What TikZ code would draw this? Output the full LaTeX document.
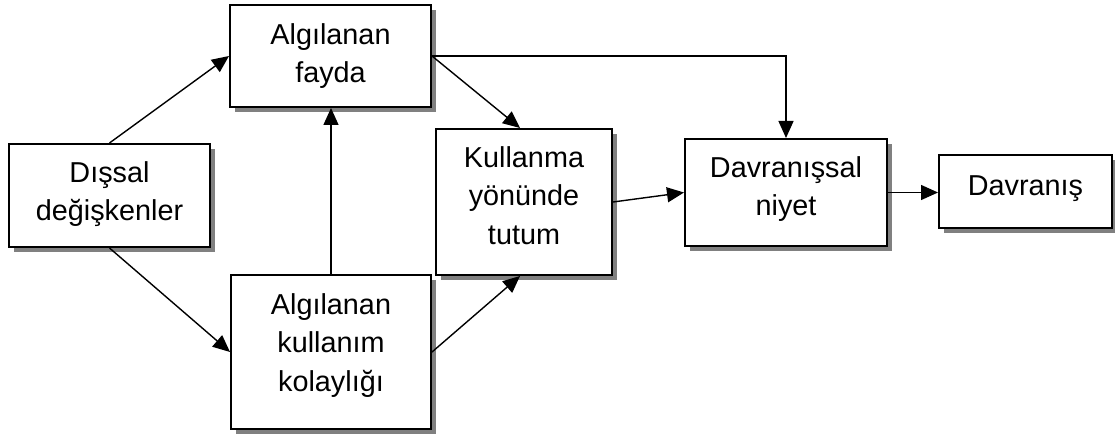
\documentclass[tikz,border=0pt]{standalone}
\usepackage{fontspec}
\setmainfont{Liberation Sans}
\usetikzlibrary{shadows,arrows.meta}

\begin{document}
\begin{tikzpicture}[x=1pt,y=-1pt,
  box/.style={draw, line width=2pt, fill=white, inner sep=0pt,
    drop shadow={shadow xshift=5pt, shadow yshift=-5pt, fill=black!50, opacity=1}},
  lbl/.style={anchor=north, align=center, inner sep=0pt,
    font=\fontsize{28.8}{38.5}\selectfont},
  link/.style={line width=1.4pt, -{Triangle[length=17pt,width=15pt]}}]
\useasboundingbox (0,0) rectangle (1115,435);

% boxes
\node[box, minimum width=201pt, minimum height=102pt] (fayda) at (330.5,56) {};
\node[lbl] (faydaT) at ([yshift=-19pt]fayda.north) {Algılanan\\fayda};

\node[box, minimum width=201pt, minimum height=103pt] (dis) at (109.5,195.5) {};
\node[lbl] (disT) at ([yshift=-18pt]dis.north) {Dışsal\\değişkenler};

\node[box, minimum width=200pt, minimum height=154pt] (kol) at (331,352) {};
\node[lbl] (kolT) at ([yshift=-19pt]kol.north) {Algılanan\\kullanım\\kolaylığı};

\node[box, minimum width=176pt, minimum height=146pt] (kul) at (524,202) {};
\node[lbl] (kulT) at ([yshift=-18pt]kul.north) {Kullanma\\yönünde\\tutum};

\node[box, minimum width=202pt, minimum height=107pt] (niy) at (786,192.5) {};
\node[lbl] (niyT) at ([yshift=-18pt]niy.north) {Davranışsal\\niyet};

\node[box, minimum width=173pt, minimum height=73pt] (dav) at (1025.5,191.5) {};
\node[lbl] (davT) at ([yshift=-21pt]dav.north) {Davranış};

% connectors
\draw[link] (dis.north) -- (fayda.west);
\draw[link] (dis.south) -- (kol.west);
\draw[link] (kol.north) -- (kol.north |- fayda.south);
\draw[link] (fayda.east) -- ([xshift=-4pt]kul.north);
\draw[link] (kol.east) -- ([xshift=-4pt]kul.south);
\draw[link] (fayda.east) -| (niy.north);
\draw[link] (kul.east) -- (niy.west);
\draw[link] (niy.east) -- (niy.east -| dav.west);
\end{tikzpicture}
\end{document}
